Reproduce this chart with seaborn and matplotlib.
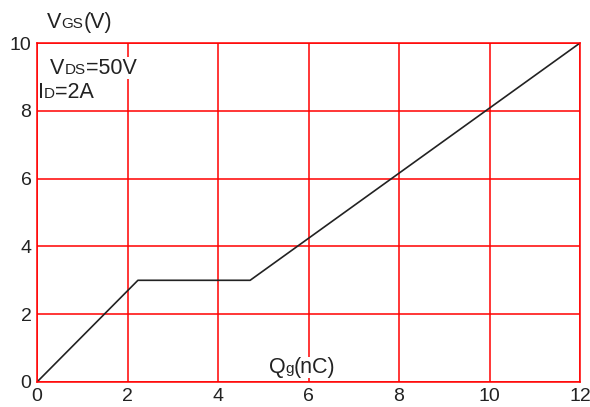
import matplotlib
matplotlib.use("Agg")
import matplotlib.pyplot as plt
import seaborn as sns
import pandas as pd
from matplotlib.offsetbox import TextArea, HPacker, AnnotationBbox

sns.set_style("white")
plt.rcParams['font.family'] = ['Liberation Sans', 'DejaVu Sans']

qg = [0.0, 2.23, 4.71, 12.0]
vgs = [0.0, 3.0, 3.0, 10.0]
xticks = [0, 2, 4, 6, 8, 10, 12]
yticks = [0, 2, 4, 6, 8, 10]

df = pd.DataFrame({"Qg": qg, "VGS": vgs})

fig = plt.figure(figsize=(5.9, 4.07), dpi=100)
ax = fig.add_axes([37/590, 1-382/407, (580-37)/590, (382-43)/407])
sns.lineplot(data=df, x="Qg", y="VGS", ax=ax, color="#222222", lw=1.2, sort=False)
ax.set_xlim(0, 12)
ax.set_ylim(0, 10)
ax.set_xticks(xticks)
ax.set_yticks(yticks)
ax.set_xticklabels([str(t) for t in xticks])
ax.set_yticklabels([str(t) for t in yticks])
ax.tick_params(axis='both', length=0, labelsize=14, colors="#222222")
ax.tick_params(axis='x', pad=4.5)
ax.tick_params(axis='y', pad=4)
ax.set_xlabel("")
ax.set_ylabel("")
ax.grid(True, color="#FF0000", lw=1.1)
ax.set_axisbelow(True)
for s in ax.spines.values():
    s.set_color("#FF0000")
    s.set_linewidth(1.1)


def label(parts, xy, align=(0, 0.5), coords='data', bg=True):
    areas = []
    for txt, size in parts:
        areas.append(TextArea(txt, textprops=dict(fontsize=size, color="#222222")))
    pack = HPacker(children=areas, align="baseline", pad=0, sep=0)
    ab = AnnotationBbox(pack, xy, xycoords=coords, box_alignment=align,
                        frameon=bg, pad=0.02,
                        bboxprops=dict(facecolor="white", edgecolor="none"),
                        annotation_clip=False)
    ax.add_artist(ab)


big, small = 15.5, 11
label([("V", big), ("GS", small), ("(V)", big)], (0.22, 10.6), bg=False)
label([("V", big), ("DS", small), ("=50V", big)], (0.29, 9.26))
label([("I", big), ("D", small), ("=2A", big)], (0.02, 8.55))
label([("Q", big), ("g", small), ("(nC)", big)], (5.86, 0.43), align=(0.5, 0.5))

fig.savefig("out.png", dpi=100)
